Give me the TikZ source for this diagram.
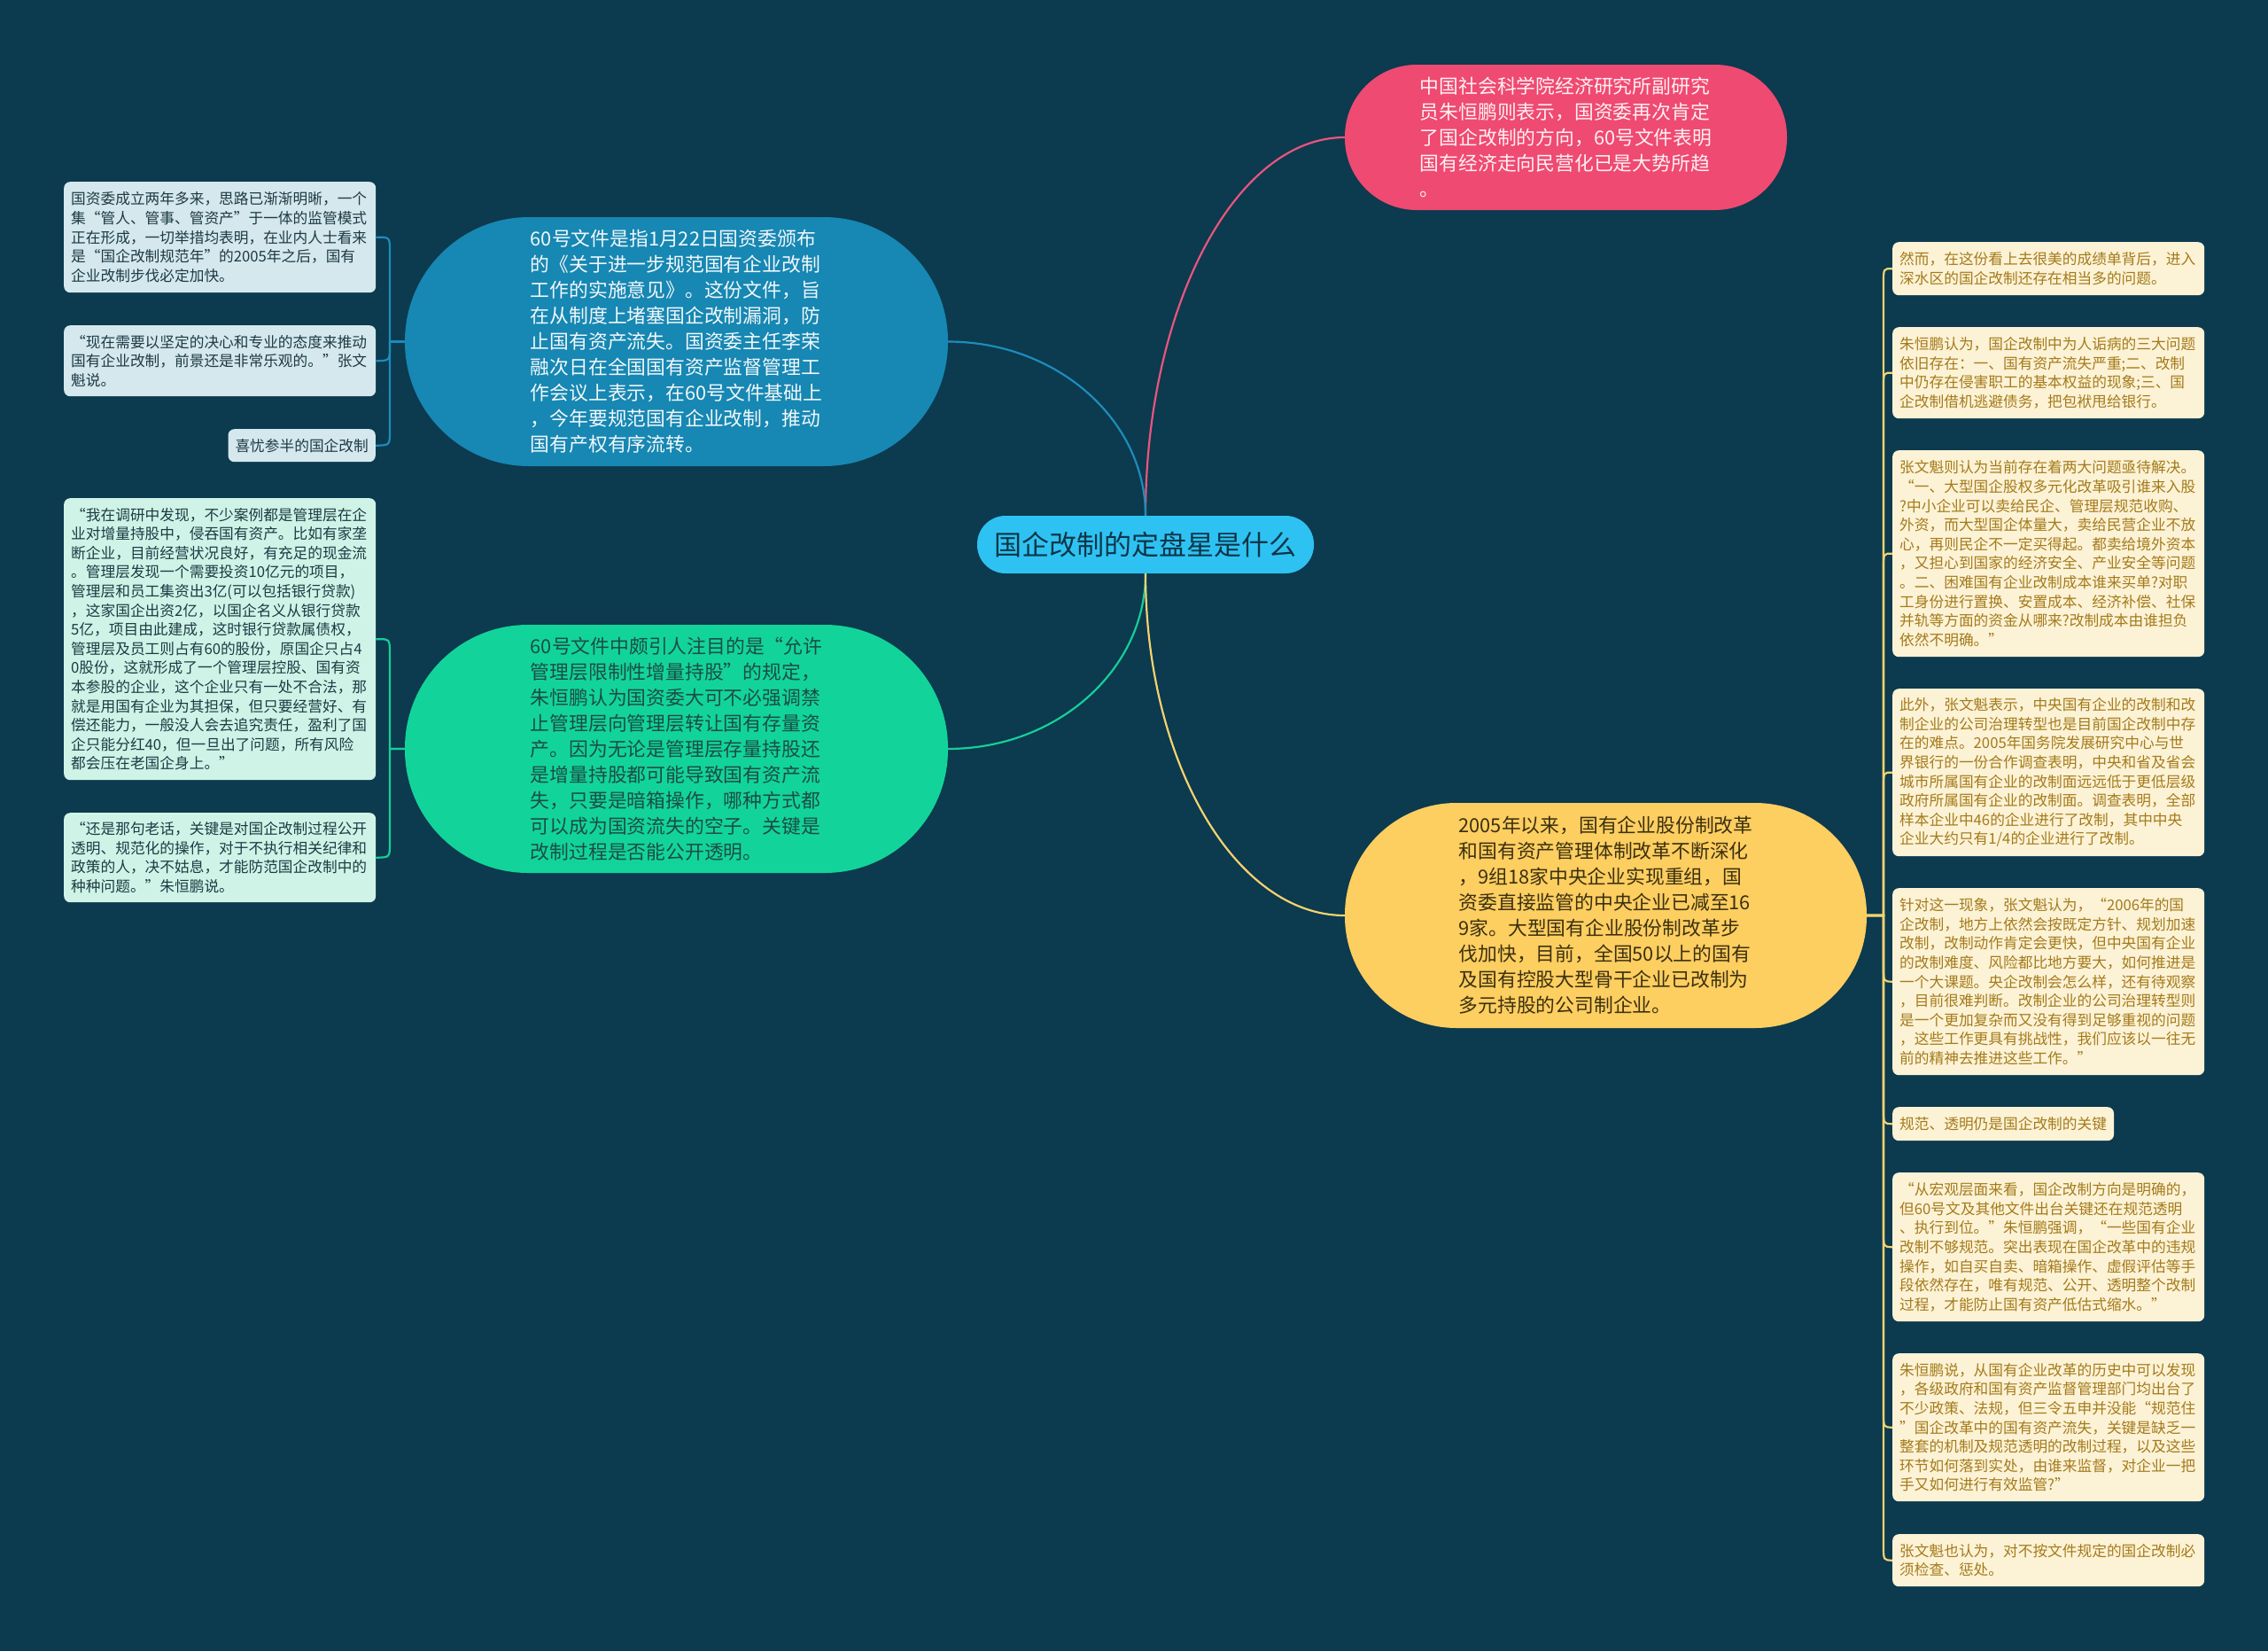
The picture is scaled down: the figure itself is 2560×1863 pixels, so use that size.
\documentclass[tikz,border=0pt]{standalone}
\usepackage{fontspec}
\newfontfamily\cjk{Noto Sans CJK SC}
\definecolor{bg}{HTML}{0C3A4E}
\definecolor{cfill}{HTML}{2EC2F2}
\definecolor{ctext}{HTML}{0E3547}
\definecolor{bfill}{HTML}{1787B3}
\definecolor{btext}{HTML}{F2F8FA}
\definecolor{gfill}{HTML}{12D49A}
\definecolor{gtext}{HTML}{1C4D44}
\definecolor{pfill}{HTML}{EF4A71}
\definecolor{ptext}{HTML}{FFF0F3}
\definecolor{yfill}{HTML}{FDCE60}
\definecolor{ytext}{HTML}{3B300F}
\definecolor{lbfill}{HTML}{D4E8EE}
\definecolor{lgfill}{HTML}{CFF4E7}
\definecolor{stext}{HTML}{1F3A44}
\definecolor{rfill}{HTML}{FCF2D6}
\definecolor{rtext}{HTML}{A47B1B}
\definecolor{pline}{HTML}{E9557D}
\definecolor{bline}{HTML}{1C8DBB}
\definecolor{gline}{HTML}{16CE98}
\definecolor{yline}{HTML}{F4D370}
\newcommand\myCenterFont{\cjk\fontsize{31}{36}\selectfont}
\newcommand\myBigFont{\cjk\fontsize{21.8}{29}\selectfont}
\newcommand\mySmallFont{\cjk\fontsize{16.7}{21.6}\selectfont}
\tikzset{
  bignode/.style={rectangle, inner sep=0pt, align=left, font=\myBigFont},
  sbox/.style={rectangle, rounded corners=7pt, inner xsep=8pt, inner ysep=0pt, align=left, font=\mySmallFont, anchor=north west},
  wbox/.style={sbox, text width=336pt},
  lbbox/.style={wbox, fill=lbfill, text=stext},
  lgbox/.style={wbox, fill=lgfill, text=stext},
  rbox/.style={wbox, fill=rfill, text=rtext},
  conn/.style={line width=2.2pt},
}
\begin{document}
\begin{tikzpicture}[x=1pt,y=-1pt]
\fill[bg] (0,0) rectangle (2560,1863);
\useasboundingbox (0,0) rectangle (2560,1863);

% main nodes
\node[rectangle, fill=cfill, text=ctext, font=\myCenterFont, minimum width=380pt, minimum height=65pt, rounded corners=32pt, inner sep=0pt] (C) at (1293,614.5) {国企改制的定盘星是什么};

\node[bignode, fill=bfill, text=btext, minimum width=613pt, minimum height=281pt, rounded corners=140pt] (blue) at (763.5,385.5) {60号文件是指1月22日国资委颁布\\的《关于进一步规范国有企业改制\\工作的实施意见》。这份文件，旨\\在从制度上堵塞国企改制漏洞，防\\止国有资产流失。国资委主任李荣\\融次日在全国国有资产监督管理工\\作会议上表示，在60号文件基础上\\，今年要规范国有企业改制，推动\\国有产权有序流转。};

\node[bignode, fill=gfill, text=gtext, minimum width=613pt, minimum height=280pt, rounded corners=139pt] (green) at (763.5,845) {60号文件中颇引人注目的是“允许\\管理层限制性增量持股”的规定，\\朱恒鹏认为国资委大可不必强调禁\\止管理层向管理层转让国有存量资\\产。因为无论是管理层存量持股还\\是增量持股都可能导致国有资产流\\失，只要是暗箱操作，哪种方式都\\可以成为国资流失的空子。关键是\\改制过程是否能公开透明。};

\node[bignode, fill=pfill, text=ptext, minimum width=499pt, minimum height=164pt, rounded corners=81pt] (pink) at (1767.5,155) {中国社会科学院经济研究所副研究\\员朱恒鹏则表示，国资委再次肯定\\了国企改制的方向，60号文件表明\\国有经济走向民营化已是大势所趋\\。};

\node[bignode, fill=yfill, text=ytext, minimum width=589pt, minimum height=254pt, rounded corners=126pt] (yellow) at (1812.5,1033) {2005年以来，国有企业股份制改革\\和国有资产管理体制改革不断深化\\，9组18家中央企业实现重组，国\\资委直接监管的中央企业已减至16\\9家。大型国有企业股份制改革步\\伐加快，目前，全国50以上的国有\\及国有控股大型骨干企业已改制为\\多元持股的公司制企业。};

% left top boxes
\node[lbbox, minimum height=125pt] (b1) at (72,205) {国资委成立两年多来，思路已渐渐明晰，一个\\集“管人、管事、管资产”于一体的监管模式\\正在形成，一切举措均表明，在业内人士看来\\是“国企改制规范年”的2005年之后，国有\\企业改制步伐必定加快。};
\node[lbbox, minimum height=80pt] (b2) at (72,367) {“现在需要以坚定的决心和专业的态度来推动\\国有企业改制，前景还是非常乐观的。”张文\\魁说。};
\node[sbox, fill=lbfill, text=stext, minimum height=37pt, anchor=north east] (b3) at (424,484) {喜忧参半的国企改制};

% left bottom boxes
\node[lgbox, minimum height=318pt] (b4) at (72,562) {“我在调研中发现，不少案例都是管理层在企\\业对增量持股中，侵吞国有资产。比如有家垄\\断企业，目前经营状况良好，有充足的现金流\\。管理层发现一个需要投资10亿元的项目，\\管理层和员工集资出3亿(可以包括银行贷款)\\，这家国企出资2亿，以国企名义从银行贷款\\5亿，项目由此建成，这时银行贷款属债权，\\管理层及员工则占有60的股份，原国企只占4\\0股份，这就形成了一个管理层控股、国有资\\本参股的企业，这个企业只有一处不合法，那\\就是用国有企业为其担保，但只要经营好、有\\偿还能力，一般没人会去追究责任，盈利了国\\企只能分红40，但一旦出了问题，所有风险\\都会压在老国企身上。”};
\node[lgbox, minimum height=101pt] (b5) at (72,917) {“还是那句老话，关键是对国企改制过程公开\\透明、规范化的操作，对于不执行相关纪律和\\政策的人，决不姑息，才能防范国企改制中的\\种种问题。”朱恒鹏说。};

% right boxes
\node[rbox, minimum height=60pt] (r1) at (2136,273) {然而，在这份看上去很美的成绩单背后，进入\\深水区的国企改制还存在相当多的问题。};
\node[rbox, minimum height=103pt] (r2) at (2136,369) {朱恒鹏认为，国企改制中为人诟病的三大问题\\依旧存在：一、国有资产流失严重;二、改制\\中仍存在侵害职工的基本权益的现象;三、国\\企改制借机逃避债务，把包袱甩给银行。};
\node[rbox, minimum height=233pt] (r3) at (2136,508) {张文魁则认为当前存在着两大问题亟待解决。\\“一、大型国企股权多元化改革吸引谁来入股\\?中小企业可以卖给民企、管理层规范收购、\\外资，而大型国企体量大，卖给民营企业不放\\心，再则民企不一定买得起。都卖给境外资本\\，又担心到国家的经济安全、产业安全等问题\\。二、困难国有企业改制成本谁来买单?对职\\工身份进行置换、安置成本、经济补偿、社保\\并轨等方面的资金从哪来?改制成本由谁担负\\依然不明确。”};
\node[rbox, minimum height=189pt] (r4) at (2136,777) {此外，张文魁表示，中央国有企业的改制和改\\制企业的公司治理转型也是目前国企改制中存\\在的难点。2005年国务院发展研究中心与世\\界银行的一份合作调查表明，中央和省及省会\\城市所属国有企业的改制面远远低于更低层级\\政府所属国有企业的改制面。调查表明，全部\\样本企业中46的企业进行了改制，其中中央\\企业大约只有1/4的企业进行了改制。};
\node[rbox, minimum height=211pt] (r5) at (2136,1002) {针对这一现象，张文魁认为，“2006年的国\\企改制，地方上依然会按既定方针、规划加速\\改制，改制动作肯定会更快，但中央国有企业\\的改制难度、风险都比地方要大，如何推进是\\一个大课题。央企改制会怎么样，还有待观察\\，目前很难判断。改制企业的公司治理转型则\\是一个更加复杂而又没有得到足够重视的问题\\，这些工作更具有挑战性，我们应该以一往无\\前的精神去推进这些工作。”};
\node[sbox, fill=rfill, text=rtext, minimum height=38pt] (r6) at (2136,1249) {规范、透明仍是国企改制的关键};
\node[rbox, minimum height=168pt] (r7) at (2136,1323) {“从宏观层面来看，国企改制方向是明确的，\\但60号文及其他文件出台关键还在规范透明\\、执行到位。”朱恒鹏强调，“一些国有企业\\改制不够规范。突出表现在国企改革中的违规\\操作，如自买自卖、暗箱操作、虚假评估等手\\段依然存在，唯有规范、公开、透明整个改制\\过程，才能防止国有资产低估式缩水。”};
\node[rbox, minimum height=167pt] (r8) at (2136,1527) {朱恒鹏说，从国有企业改革的历史中可以发现\\，各级政府和国有资产监督管理部门均出台了\\不少政策、法规，但三令五申并没能“规范住\\”国企改革中的国有资产流失，关键是缺乏一\\整套的机制及规范透明的改制过程，以及这些\\环节如何落到实处，由谁来监督，对企业一把\\手又如何进行有效监管?”};
\node[rbox, minimum height=59pt] (r9) at (2136,1731) {张文魁也认为，对不按文件规定的国企改制必\\须检查、惩处。};

% main connectors
\draw[conn, pline] (C.north) .. controls (1293,347) and (1394,155) .. (pink.west);
\draw[conn, bline] (blue.east) .. controls (1193,385.5) and (1293,474) .. (C.north);
\draw[conn, gline] (green.east) .. controls (1193,845) and (1293,756) .. (C.south);
\draw[conn, yline] (C.south) .. controls (1293,859) and (1394,1033) .. (yellow.west);

% left top bracket
\draw[conn, bline] (blue.west) -- (440,385.5) -- (440,283.5) .. controls (440,267.5) .. (b1.east);
\draw[conn, bline] (blue.west) -- (440,385.5) -- (440,391) .. controls (440,407) .. (b2.east);
\draw[conn, bline] (blue.west) -- (440,385.5) -- (440,486.5) .. controls (440,502.5) .. (b3.east);

% left bottom bracket
\draw[conn, gline] (green.west) -- (440,845) -- (440,737) .. controls (440,721) .. (b4.east);
\draw[conn, gline] (green.west) -- (440,845) -- (440,951.5) .. controls (440,967.5) .. (b5.east);

% right bracket
\draw[conn, yline] (yellow.east) -- (2126,1033) -- (2126,319) .. controls (2126,303) .. (r1.west);
\draw[conn, yline] (yellow.east) -- (2126,1033) -- (2126,436.5) .. controls (2126,420.5) .. (r2.west);
\draw[conn, yline] (yellow.east) -- (2126,1033) -- (2126,640.5) .. controls (2126,624.5) .. (r3.west);
\draw[conn, yline] (yellow.east) -- (2126,1033) -- (2126,887.5) .. controls (2126,871.5) .. (r4.west);
\draw[conn, yline] (yellow.east) -- (2126,1033) -- (2126,1091.5) .. controls (2126,1107.5) .. (r5.west);
\draw[conn, yline] (yellow.east) -- (2126,1033) -- (2126,1252) .. controls (2126,1268) .. (r6.west);
\draw[conn, yline] (yellow.east) -- (2126,1033) -- (2126,1391) .. controls (2126,1407) .. (r7.west);
\draw[conn, yline] (yellow.east) -- (2126,1033) -- (2126,1594.5) .. controls (2126,1610.5) .. (r8.west);
\draw[conn, yline] (yellow.east) -- (2126,1033) -- (2126,1744.5) .. controls (2126,1760.5) .. (r9.west);
\end{tikzpicture}
\end{document}
